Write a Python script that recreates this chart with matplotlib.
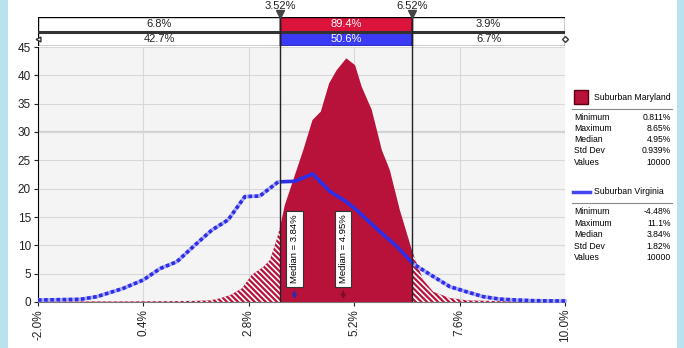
import matplotlib
matplotlib.use("Agg")
import matplotlib.pyplot as plt
from matplotlib.patches import Rectangle
import numpy as np

plt.rcParams['font.family'] = ['Liberation Sans', 'DejaVu Sans']
plt.rcParams['hatch.color'] = 'white'
plt.rcParams['hatch.linewidth'] = 1.2

# ---------------- data ----------------
md_x = [-2.0, -1.0, 0.0, 1.0, 1.6, 1.92, 2.14, 2.37, 2.64, 2.87, 3.13, 3.28, 3.43, 3.52,
        3.62, 4.04, 4.25, 4.44, 4.63, 4.80, 5.02, 5.22, 5.37, 5.60, 5.83, 6.01, 6.24,
        6.52, 6.62, 6.77, 7.0, 7.38, 7.76, 8.5, 9.3, 10.0]
md_y = [0.1, 0.1, 0.1, 0.15, 0.2, 0.3, 0.65, 1.2, 2.4, 4.8, 6.2, 7.4, 10.9, 13.5,
        17.1, 26.8, 32.1, 33.6, 38.6, 40.9, 43.0, 41.8, 38.0, 33.9, 26.8, 23.3, 16.2,
        9.0, 6.9, 3.9, 1.8, 0.7, 0.3, 0.15, 0.1, 0.1]

va_x = [-2.0, -1.04, -0.66, -0.06, 0.40, 0.78, 1.16, 1.61, 1.96, 2.33, 2.71, 3.05, 3.47,
        3.85, 4.25, 4.65, 5.0, 5.26, 5.41, 5.79, 6.17, 6.55, 7.0, 7.38, 7.76, 8.14, 8.52,
        8.9, 9.28, 10.0]
va_y = [0.35, 0.47, 0.94, 2.4, 3.9, 5.9, 7.1, 10.3, 12.7, 14.5, 18.6, 18.7, 21.2,
        21.3, 22.6, 19.5, 17.8, 16.2, 15.1, 12.4, 9.8, 6.7, 4.5, 2.7, 1.8, 0.94, 0.5,
        0.35, 0.23, 0.18]

left_cut, right_cut = 3.52, 6.52
md_pcts = ["6.8%", "89.4%", "3.9%"]
va_pcts = ["42.7%", "50.6%", "6.7%"]
md_median, va_median = 4.95, 3.84

x_ticks = [-2.0, 0.4, 2.8, 5.2, 7.6, 10.0]
y_ticks = [0, 5, 10, 15, 20, 25, 30, 35, 40, 45]

md_stats_labels = ["Minimum", "Maximum", "Median", "Std Dev", "Values"]
md_stats_values = ["0.811%", "8.65%", "4.95%", "0.939%", "10000"]
va_stats_values = ["-4.48%", "11.1%", "3.84%", "1.82%", "10000"]

RED = '#B8123A'
RED_BAR = '#DC143C'
BLUE = '#2E2EE6'
BLUE_BAR = '#3B3BF5'

W, H = 684, 348
fig = plt.figure(figsize=(W / 100, H / 100), dpi=100)
fig.patch.set_facecolor('white')

def fx(px):
    return px / W

def fy(py):
    return 1 - py / H

# light blue side borders
fig.patches.append(Rectangle((0, 0), fx(8), 1, transform=fig.transFigure,
                             facecolor='#B7E2EE', edgecolor='none', zorder=0))
fig.patches.append(Rectangle((fx(677), 0), 1, 1, transform=fig.transFigure,
                             facecolor='#B7E2EE', edgecolor='none', zorder=0))

L, R, T, B = 38, 565, 47, 302
ax = fig.add_axes([fx(L), fy(B), fx(R) - fx(L), fy(T) - fy(B)])
ax.set_facecolor('#F4F4F4')
ax.set_xlim(-2, 10)
ax.set_ylim(0, 45)
ax.set_xticks(x_ticks)
ax.set_xticklabels([f"{v:.1f}%" for v in x_ticks], rotation=90, fontsize=8.5)
ax.set_yticks(y_ticks)
ax.set_yticklabels([str(v) for v in y_ticks], fontsize=8.5)
ax.grid(True, color='#D8D8D8', linewidth=0.8)
ax.axhline(30, color='#D0D0D0', lw=1.6, zorder=0.5)
ax.set_axisbelow(True)
for s in ['top', 'right']:
    ax.spines[s].set_visible(False)
ax.spines['left'].set_color('black')
ax.spines['bottom'].set_color('#777777')
ax.tick_params(axis='both', length=3, width=0.8, colors='#222222', pad=2)

# Red area: hatched outside, solid inside
fl = ax.fill_between(md_x, 0, md_y, facecolor=RED, edgecolor='white', hatch='\\\\\\\\\\\\',
                     linewidth=0, zorder=2)
fr = ax.fill_between(md_x, 0, md_y, facecolor=RED, edgecolor='white', hatch='\\\\\\\\\\\\',
                     linewidth=0, zorder=2)
fm = ax.fill_between(md_x, 0, md_y, facecolor=RED, edgecolor='none', linewidth=0, zorder=2)
rl = Rectangle((-2, 0), left_cut + 2, 45, transform=ax.transData)
rr = Rectangle((right_cut, 0), 10 - right_cut, 45, transform=ax.transData)
rm = Rectangle((left_cut, 0), right_cut - left_cut, 45, transform=ax.transData)
fl.set_clip_path(rl)
fr.set_clip_path(rr)
fm.set_clip_path(rm)

# Blue line: dotted outside, solid inside
for rect in [Rectangle((-2, -1), left_cut + 2, 47, transform=ax.transData),
             Rectangle((right_cut, -1), 10 - right_cut + 0.2, 47, transform=ax.transData)]:
    l1, = ax.plot(va_x, va_y, color='#A8A8FF', lw=2.6, zorder=3, clip_on=True)
    l2, = ax.plot(va_x, va_y, color=BLUE, lw=2.6, linestyle=(0, (1.0, 0.7)), zorder=4)
    l1.set_clip_path(rect)
    l2.set_clip_path(rect)
lm, = ax.plot(va_x, va_y, color=BLUE, lw=2.6, zorder=4, solid_joinstyle='miter')
lm.set_clip_path(Rectangle((left_cut, -1), right_cut - left_cut, 47, transform=ax.transData))

# cut lines
for c in [left_cut, right_cut]:
    ax.axvline(c, color='#222222', lw=1.0, zorder=5)

# median markers
for med, col in [(va_median, '#2A2AB0'), (md_median, '#7A1020')]:
    ax.text(med, 9.4, f"Median = {med:.2f}%", rotation=90, ha='center', va='center',
            fontsize=6.8, zorder=7,
            bbox=dict(boxstyle='square,pad=0.4', fc='white', ec='#333333', lw=0.8))
    ax.annotate('', xy=(med, 0), xytext=(med, 2.4),
                arrowprops=dict(arrowstyle='-|>', color=col, lw=1.2, mutation_scale=6),
                zorder=7)

# ---------------- top bars ----------------
axt = fig.add_axes([fx(L), fy(46), fx(R) - fx(L), fy(17) - fy(46)])
axt.set_xlim(-2, 10)
axt.set_ylim(0, 2)
axt.axis('off')
segs = [(-2, left_cut), (left_cut, right_cut), (right_cut, 10)]
for row, pcts, midcol in [(1, md_pcts, RED_BAR), (0, va_pcts, BLUE_BAR)]:
    for i, ((a, b), p) in enumerate(zip(segs, pcts)):
        fc = midcol if i == 1 else 'white'
        axt.add_patch(Rectangle((a, row), b - a, 1, facecolor=fc, edgecolor='black', lw=1.0))
        axt.text((a + b) / 2, row + 0.5, p, ha='center', va='center', fontsize=8,
                 color='white' if i == 1 else '#222222')
axt.plot([-2, 10], [1, 1], color='#333333', lw=2.2)
axt.plot([-2], [0.5], marker='<', ms=3.5, mfc='white', mec='#333333', clip_on=False)
axt.plot([10], [0.5], marker='D', ms=3, mfc='white', mec='#333333', clip_on=False)
for c in [left_cut, right_cut]:
    axt.plot([c, c], [0, 2.25], color='#222222', lw=1.0, clip_on=False)
    axt.plot([c], [2.2], marker='v', ms=6, color='#444444', clip_on=False)
    fig.text(fx(38 + (c + 2) / 12 * (R - L)), fy(6), f"{c:.2f}%", ha='center', va='center',
             fontsize=8, color='#222222')

# ---------------- legend panel ----------------
fig.patches.append(Rectangle((fx(574), fy(104)), fx(14), fy(90) - fy(104),
                             transform=fig.transFigure, facecolor=RED, edgecolor='#5A0010',
                             lw=1.0))
fig.text(fx(594), fy(97), "Suburban Maryland", fontsize=6.3, va='center', ha='left')
fig.lines.append(plt.Line2D([fx(572), fx(672)], [fy(109), fy(109)], transform=fig.transFigure,
                            color='#888888', lw=0.8))
md_rows = [117, 128.3, 139.6, 150.9, 162.2]
for lab, val, py in zip(md_stats_labels, md_stats_values, md_rows):
    fig.text(fx(574), fy(py), lab, fontsize=6.2, va='center', ha='left')
    fig.text(fx(671), fy(py), val, fontsize=6.2, va='center', ha='right')

fig.lines.append(plt.Line2D([fx(573), fx(590)], [fy(192), fy(192)], transform=fig.transFigure,
                            color='#4646F0', lw=2.5))
fig.text(fx(594), fy(192), "Suburban Virginia", fontsize=6.3, va='center', ha='left')
fig.lines.append(plt.Line2D([fx(572), fx(672)], [fy(203), fy(203)], transform=fig.transFigure,
                            color='#888888', lw=0.8))
va_rows = [212, 223.4, 234.8, 246.2, 257.6]
for lab, val, py in zip(md_stats_labels, va_stats_values, va_rows):
    fig.text(fx(574), fy(py), lab, fontsize=6.2, va='center', ha='left')
    fig.text(fx(671), fy(py), val, fontsize=6.2, va='center', ha='right')

fig.savefig('out.png', dpi=100)
